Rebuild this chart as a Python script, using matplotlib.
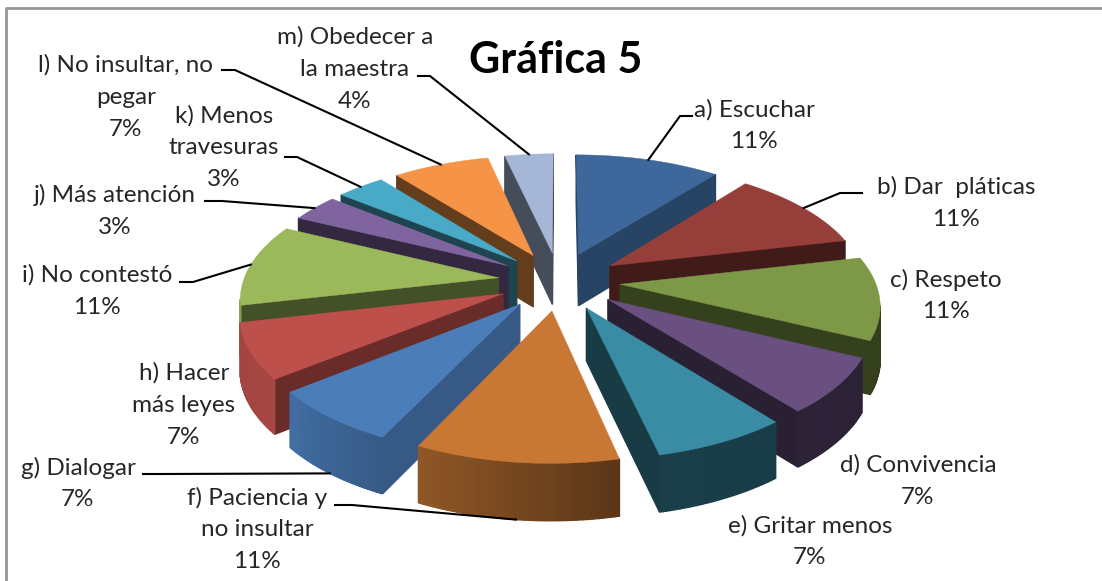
import numpy as np
import matplotlib
matplotlib.use('Agg')
import matplotlib.pyplot as plt

plt.rcParams['font.family'] = ['Lato', 'DejaVu Sans']

title = 'Gráfica 5'
names = ['a) Escuchar', 'b) Dar  pláticas', 'c) Respeto', 'd) Convivencia', 'e) Gritar menos',
         'f) Paciencia y\nno insultar', 'g) Dialogar', 'h) Hacer\nmás leyes', 'i) No contestó',
         'j) Más atención', 'k) Menos\ntravesuras', 'l) No insultar, no\npegar',
         'm) Obedecer a\nla maestra']
# answers out of 28, the labels show the rounded percent
counts = [3, 3, 3, 2, 2, 3, 2, 2, 3, 1, 1, 2, 1]
percents = ['11%', '11%', '11%', '7%', '7%', '11%', '7%', '7%', '11%', '3%', '3%', '7%', '4%']

colors = ['#3e689b', '#963e3a', '#7d9846', '#695080', '#3a8ca5', '#c87834', '#4b7db9',
          '#be504b', '#9bb95a', '#8064a0', '#48aac6', '#f59446', '#a5b6d7']
side_shade = [0.65, 0.43, 0.42, 0.40, 0.42, 0.5, 0.72, 0.55, 0.44, 0.40, 0.40, 0.41, 0.42]

# label centres and leader lines, in picture pixels
label_pos = [(754, 126), (956, 203), (946, 296), (918, 481), (810, 542), (257, 530), (78, 484),
             (184, 405), (97, 291), (115, 211), (224, 148), (126, 97), (355, 69)]
line_gap = 32
leaders = {0: [(692, 116), (680, 116)], 1: [(862, 193), (840, 193)], 5: [(335, 505), (352, 505)],
           6: [(143, 474), (160, 474)], 8: [(180, 282), (193, 282)], 9: [(205, 201), (222, 201)],
           10: [(285, 157), (297, 157)], 11: [(222, 70), (235, 70)], 12: [(418, 76), (430, 76)]}
leader_on_bottom = [5, 6]

# fake 3d pie settings
cx, cy = 559, 281
rx, ry = 255, 121
explode = 0.24
persp = 0.144
depth = 52


def project(theta, mid, r=1.0, down=0):
    x = r * np.sin(theta) + explode * np.sin(mid)
    y = r * np.cos(theta) + explode * np.cos(mid)
    s = 1 / (1 + persp * y)
    return cx + rx * x * s, cy - ry * y * s + down * depth * s ** 0.5


def shade(color, f):
    return tuple(c * f for c in matplotlib.colors.to_rgb(color))


def wall(ax, p, q, color, zorder):
    xs = [p[0], q[0], q[2], p[2]]
    ys = [p[1], q[1], q[3], p[3]]
    ax.fill(xs, ys, facecolor=color, edgecolor=color, lw=1.0, zorder=zorder)


fig = plt.figure(figsize=(11.02, 5.81), dpi=100)
ax = fig.add_axes([0, 0, 1, 1])
ax.set_xlim(0, 1102)
ax.set_ylim(581, 0)
ax.axis('off')

edges = np.cumsum([0] + counts) / sum(counts) * 2 * np.pi
mids = (edges[:-1] + edges[1:]) / 2

# back slices first so the front ones cover them
order = np.argsort(-np.cos(mids))
z = 2
for i in order:
    t = np.linspace(edges[i], edges[i + 1], 40)
    mid = mids[i]
    ax_top = [project(a, mid) for a in t]
    ax_low = [project(a, mid, down=1) for a in t]
    apex = project(0, mid, r=0)
    apex_low = project(0, mid, r=0, down=1)

    # outline walks clockwise, a wall shows when the edge runs to the left
    side = shade(colors[i], side_shade[i])
    if ax_top[0][0] < apex[0]:
        wall(ax, apex + apex_low, ax_top[0] + ax_low[0], side, z)
    if apex[0] < ax_top[-1][0]:
        wall(ax, ax_top[-1] + ax_low[-1], apex + apex_low, side, z)
    for j in range(len(t) - 1):
        if ax_top[j + 1][0] < ax_top[j][0]:
            deg = np.degrees((t[j] + t[j + 1]) / 2)
            f = np.interp(deg, [90, 167, 205, 231, 260], [0.4, 0.45, 0.72, 0.88, 0.85])
            wall(ax, ax_top[j] + ax_low[j], ax_top[j + 1] + ax_low[j + 1], shade(colors[i], f), z)

    xs = [apex[0]] + [p[0] for p in ax_top]
    ys = [apex[1]] + [p[1] for p in ax_top]
    ax.fill(xs, ys, color=colors[i], lw=0.3, zorder=z + 0.5)
    z += 1

# labels, one text per line so the blocks can sit close like in the original
for i, name in enumerate(names):
    lines = name.split('\n') + [percents[i]]
    y0 = label_pos[i][1] - (len(lines) - 1) * line_gap / 2
    for n, line in enumerate(lines):
        ax.text(label_pos[i][0], y0 + n * line_gap, line, ha='center', va='center',
                fontsize=17.5, color='#262626', zorder=50)

for i, pts in leaders.items():
    end = project(mids[i], mids[i], down=1 if i in leader_on_bottom else 0)
    xs = [p[0] for p in pts] + [end[0]]
    ys = [p[1] for p in pts] + [end[1]]
    ax.plot(xs, ys, color='black', lw=1.5, zorder=40)

ax.text(556, 60, title, ha='center', va='center', fontsize=31, fontweight='bold', color='black', zorder=50)

# chart frame, only top and left are inside the picture
ax.plot([6, 6, 1102], [581, 8, 8], color='#969696', lw=2, zorder=1)

fig.savefig('out.png', dpi=100)
